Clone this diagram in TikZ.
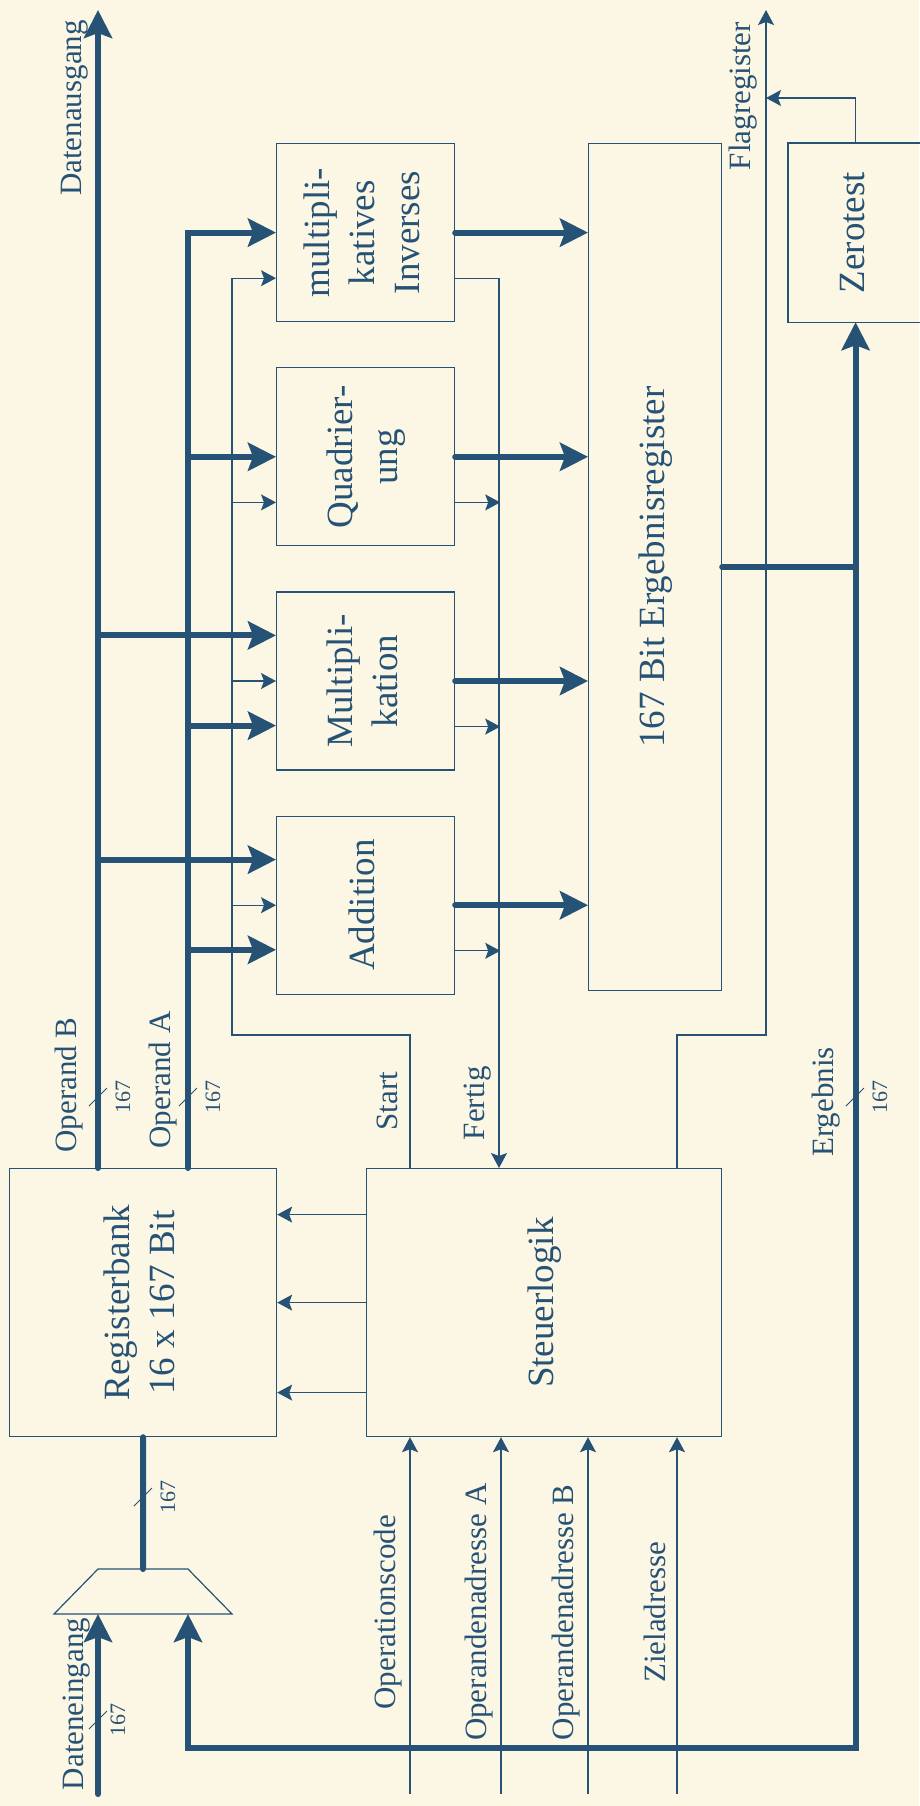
\documentclass[tikz,border=0pt]{standalone}
\usepackage{fontspec}
\setmainfont{Liberation Serif}
\usetikzlibrary{arrows.meta,positioning,shapes.geometric,calc}

\definecolor{ink}{RGB}{38,82,118}
\definecolor{paper}{RGB}{252,247,228}
\newcommand{\boxfont}{\fontsize{37}{45}\selectfont}
\newcommand{\sigfont}{\fontsize{31}{37}\selectfont}
\newcommand{\widthfont}{\fontsize{22}{26}\selectfont}
\newcommand{\vtext}[1]{\rotatebox{90}{\begin{tabular}{@{}c@{}}#1\end{tabular}}}

\begin{document}
\begin{tikzpicture}[
  x=1pt, y=-1pt,
  node distance=45pt,
  unit/.style={rectangle, draw=ink, line width=1.2pt, inner sep=0pt, text=ink, font=\boxfont, minimum width=178pt, minimum height=178pt},
  lbl/.style={rotate=90, inner sep=0pt, text=ink, font=\sigfont},
  num/.style={rotate=90, inner sep=0pt, text=ink, font=\widthfont},
  sig/.style={draw=ink, line width=1.2pt},
  sigarrow/.style={sig, -{Stealth[length=15pt, width=16pt, inset=3pt]}},
  bus/.style={draw=ink, line width=6pt, line cap=round},
  busarrow/.style={bus, -{Stealth[length=28pt, width=28pt, inset=5pt]}}
]
\fill[paper] (0,0) rectangle (919,1806);
\useasboundingbox (0,0) rectangle (919,1806);

% arithmetic units
\node[unit, anchor=north west] (inv) at (276,143) {\vtext{multipli-\\katives\\Inverses}};
\node[unit, below=of inv] (quad) {\vtext{Quadrier-\\ung}};
\node[unit, below=of quad] (mult) {\vtext{Multipli-\\kation}};
\node[unit, below=of mult] (add) {\vtext{Addition}};
\node[unit, anchor=north west, minimum width=133pt, minimum height=847pt] (erg) at (588,143) {\vtext{167 Bit Ergebnisregister}};
% cut off by the right margin: no right side
\node[unit, draw=none, anchor=north west, minimum width=134pt] (zt) at (788,143) {\vtext{Zerotest}};
\draw[sig] (zt.north east) -- (zt.north west) -- (zt.south west) -- (zt.south east);

% register bank, control, input mux
\node[unit, anchor=north west, minimum width=267pt, minimum height=268pt] (reg) at (9,1168) {\vtext{Registerbank\\16 x 167 Bit}};
\node[unit, anchor=north west, minimum width=355pt, minimum height=268pt] (ctrl) at (366,1168) {\vtext{Steuerlogik}};
\coordinate (muxout) at (143,1569);
\coordinate (muxin1) at (98,1614);
\coordinate (muxin2) at (188,1614);
\draw[sig] (54,1614) -- (98,1569) -- (188,1569) -- (232,1614) -- cycle;

% signal names
\node[lbl] (lout) at (75,108) {Datenausgang};
\node[lbl] (lflag) at (743,96) {Flagregister};
\node[lbl] (lopb) at (69,1085) {Operand B};
\node[lbl] (lopa) at (163,1080) {Operand A};
\node[lbl] (lstart) at (387,1101) {Start};
\node[lbl] (lfertig) at (478,1103) {Fertig};
\node[lbl] (lerg) at (826,1102) {Ergebnis};
\node[lbl] (lin) at (77,1704) {Dateneingang};

\coordinate (dout) at (98,10);
\coordinate (flag) at (766,10);
\coordinate (din) at (98,1794);
\coordinate (opB) at ($(reg.north west)+(89,0)$);
\coordinate (opA) at ($(reg.north west)+(179,0)$);
\coordinate (ej) at (erg.east -| zt.south);
\coordinate (st) at (232,1035);

% operand buses
\draw[busarrow] (opB) -- (dout);
\draw[busarrow] (opA) |- (inv.west);
\draw[busarrow] (opA |- quad.west) -- (quad.west);
\foreach \u in {mult,add} {
  \draw[busarrow] ($(\u.north west)+(-178,44)$) -- ++(178,0);
  \draw[busarrow] ($(\u.south west)+(-88,-45)$) -- ++(88,0);
}

% results
\foreach \u in {inv,quad,mult,add}
  \draw[busarrow] (\u.east) -- (\u.east -| erg.west);
\draw[bus] (erg.east) -- (ej);
\draw[busarrow] (ej) -- (zt.south);
\draw[busarrow] (ej) -- ++(0,1181) -| (muxin2);
\draw[busarrow] (din) -- (muxin1);
\draw[bus] (reg.south) -- (muxout);

% start / fertig
\draw[sigarrow] ($(ctrl.north west)+(44,0)$) |- (st) |- ($(inv.south west)+(0,-44)$);
\draw[sigarrow] ($(quad.south west)+(-44,-44)$) -- ++(44,0);
\foreach \u in {mult,add}
  \draw[sigarrow] (st |- \u.west) -- (\u.west);
\draw[sigarrow] ($(inv.south east)+(0,-44)$) -| ($(ctrl.north west)+(133,0)$);
\foreach \u in {quad,mult,add}
  \draw[sigarrow] ($(\u.south east)+(0,-44)$) -- ++(45,0);

% flags
\draw[sigarrow] ($(ctrl.north west)+(311,0)$) |- ($(flag)+(0,1025)$) -- (flag);
\draw[sigarrow] (zt.north) |- ($(flag)+(0,88)$);

% control to register bank
\foreach \d in {-88,0,90}
  \draw[sigarrow] ($(ctrl.west)+(0,\d)$) -- ($(reg.east)+(0,\d)$);

% external control inputs
\foreach \n/\dx/\t in {opc/44/Operationscode, adra/135/Operandenadresse A, adrb/222/Operandenadresse B, ziel/311/Zieladresse} {
  \coordinate (in\n) at ($(ctrl.south west)+(\dx,357)$);
  \draw[sigarrow] (in\n) -- (in\n |- ctrl.south);
  \node[lbl] (l\n) at ($(in\n)+(-22,-182)$) {\t};
}

% bus widths
\foreach \n/\x/\y/\dx in {wB/98/1097/25, wA/188/1097/25, wE/855/1097/25, wR/143/1497/25, wD/98/1720/20} {
  \draw[ink, line width=1pt] (\x-9,\y+9) -- (\x+9,\y-9);
  \node[num] (\n) at (\x+\dx,\y) {167};
}
\end{tikzpicture}
\end{document}
